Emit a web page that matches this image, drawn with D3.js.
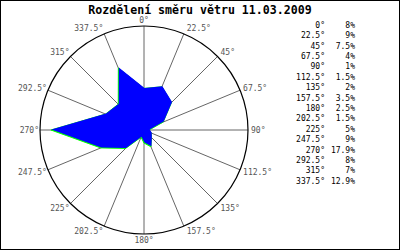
<!DOCTYPE html>
<html>
<head>
<meta charset="utf-8">
<script src="https://cdn.jsdelivr.net/npm/d3@7"></script>
<style>
  body { margin: 0; background: #fff; }
  svg { display: block; }
</style>
</head>
<body>
<div id="plot"></div>
<script>
// wind direction data (percent of time per direction)
const directions = [0, 22.5, 45, 67.5, 90, 112.5, 135, 157.5, 180, 202.5, 225, 247.5, 270, 292.5, 315, 337.5];
const dirLabels = ["0°", "22.5°", "45°", "67.5°", "90°", "112.5°", "135°", "157.5°", "180°", "202.5°", "225°", "247.5°", "270°", "292.5°", "315°", "337.5°"];
const values = [8, 9, 7.5, 4, 1, 1.5, 2, 3.5, 2.5, 1.5, 5, 9, 17.9, 8, 7, 12.9];
const valueLabels = ["8%", "9%", "7.5%", "4%", "1%", "1.5%", "2%", "3.5%", "2.5%", "1.5%", "5%", "9%", "17.9%", "8%", "7%", "12.9%"];
const title = "Rozdělení směru větru 11.03.2009";

const width = 400;
const height = 250;
const cx = 144, cy = 130;
const radius = 104;

const svg = d3.select("#plot")
    .append("svg")
    .attr("width", width)
    .attr("height", height);

svg.append("rect")
    .attr("x", 0.5).attr("y", 0.5)
    .attr("width", width - 1).attr("height", height - 1)
    .attr("fill", "#fff")
    .attr("stroke", "#000");

// scales
const angle = d3.scaleLinear().domain([0, 360]).range([0, 2 * Math.PI]);
const r = d3.scaleLinear().domain([0, 20]).range([0, radius]);

const g = svg.append("g").attr("transform", `translate(${cx},${cy})`);

// spokes
g.selectAll("line.spoke")
    .data(directions)
    .enter()
    .append("line")
    .attr("class", "spoke")
    .attr("x1", 0).attr("y1", 0)
    .attr("x2", d => Math.sin(angle(d)) * radius)
    .attr("y2", d => -Math.cos(angle(d)) * radius)
    .attr("stroke", "#666")
    .attr("stroke-width", 1);

// outer circle
g.append("circle")
    .attr("r", radius)
    .attr("fill", "none")
    .attr("stroke", "#000")
    .attr("stroke-width", 1.2);

// direction labels round the circle
g.selectAll("text.dir")
    .data(directions)
    .enter()
    .append("text")
    .attr("class", "dir")
    .attr("x", d => {
        const s = Math.sin(angle(d));
        if (Math.abs(s) < 0.01) return 0;
        return s * radius + (s > 0 ? 3 : -1);
    })
    .attr("y", d => -Math.cos(angle(d)) * radius - Math.cos(angle(d)) * 6)
    .attr("dy", "0.35em")
    .attr("text-anchor", d => {
        const s = Math.sin(angle(d));
        if (Math.abs(s) < 0.01) return "middle";
        return s > 0 ? "start" : "end";
    })
    .attr("font-family", "DejaVu Sans Mono, monospace")
    .attr("font-size", 8)
    .attr("fill", "#555")
    .text((d, i) => dirLabels[i]);

// rose polygon
const line = d3.lineRadial()
    .angle(d => angle(d.dir))
    .radius(d => r(d.val))
    .curve(d3.curveLinearClosed);

const pts = directions.map((d, i) => ({dir: d, val: values[i]}));

g.append("path")
    .attr("d", line(pts))
    .attr("fill", "#00ff00")
    .attr("stroke", "#00ff00")
    .attr("stroke-width", 1);

g.append("path")
    .attr("d", line(pts))
    .attr("fill", "#0000ff")
    .attr("transform", "translate(0.5,-0.5)");

// title
svg.append("text")
    .attr("x", 200)
    .attr("y", 14)
    .attr("text-anchor", "middle")
    .attr("font-family", "DejaVu Sans Mono, monospace")
    .attr("font-weight", "bold")
    .attr("font-size", 11.6)
    .text(title);

// legend table
const rowY = d3.scaleLinear().domain([0, 15]).range([25, 181]);

const legend = svg.append("g")
    .attr("font-family", "DejaVu Sans Mono, monospace")
    .attr("font-size", 8)
    .attr("fill", "#000");

legend.selectAll("text.ldir")
    .data(dirLabels)
    .enter()
    .append("text")
    .attr("x", 325)
    .attr("y", (d, i) => rowY(i))
    .attr("dy", "0.35em")
    .attr("text-anchor", "end")
    .text(d => d);

legend.selectAll("text.lval")
    .data(valueLabels)
    .enter()
    .append("text")
    .attr("x", 355)
    .attr("y", (d, i) => rowY(i))
    .attr("dy", "0.35em")
    .attr("text-anchor", "end")
    .text(d => d);
</script>
</body>
</html>
